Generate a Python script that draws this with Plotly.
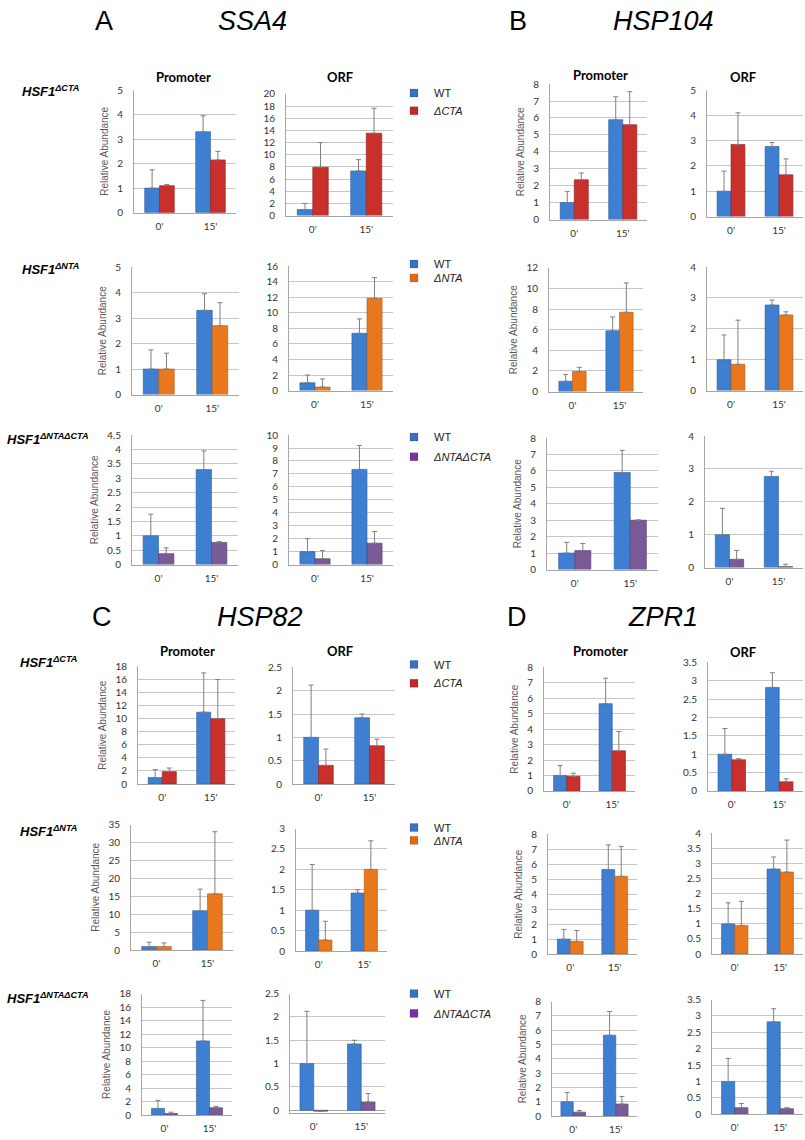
import plotly.graph_objects as go

W, H = 805, 1140

CATS = ["0'", "15'"]
GENES = ["SSA4", "HSP104", "HSP82", "ZPR1"]
LETTERS = ["A", "B", "C", "D"]
REGIONS = ["Promoter", "ORF"]
MUT_NAMES = ["ΔCTA", "ΔNTA", "ΔNTAΔCTA"]
ROW_LABELS = ["HSF1<sup>ΔCTA</sup>", "HSF1<sup>ΔNTA</sup>", "HSF1<sup>ΔNTAΔCTA</sup>"]

# ---------------- data (bar value, top of error bar) ----------------
# SSA4
SSA4_PROM_WT = [1.00, 3.30];   SSA4_PROM_WT_TOP = [1.75, 3.95]
SSA4_ORF_WT = [1.00, 7.35];    SSA4_ORF_WT_TOP = [2.00, 9.20]
SSA4_PROM_CTA = [1.10, 2.15];  SSA4_PROM_CTA_TOP = [1.15, 2.50]
SSA4_ORF_CTA = [7.95, 13.55];  SSA4_ORF_CTA_TOP = [12.00, 17.65]
SSA4_PROM_NTA = [1.00, 2.70];  SSA4_PROM_NTA_TOP = [1.62, 3.60]
SSA4_ORF_NTA = [0.45, 11.85];  SSA4_ORF_NTA_TOP = [1.50, 14.50]
SSA4_PROM_DBL = [0.38, 0.77];  SSA4_PROM_DBL_TOP = [0.58, 0.80]
SSA4_ORF_DBL = [0.45, 1.65];   SSA4_ORF_DBL_TOP = [1.08, 2.55]
# HSP104
HSP104_PROM_WT = [1.00, 5.90];  HSP104_PROM_WT_TOP = [1.65, 7.25]
HSP104_ORF_WT = [1.00, 2.77];   HSP104_ORF_WT_TOP = [1.80, 2.93]
HSP104_PROM_CTA = [2.35, 5.60]; HSP104_PROM_CTA_TOP = [2.75, 7.55]
HSP104_ORF_CTA = [2.85, 1.65];  HSP104_ORF_CTA_TOP = [4.10, 2.28]
HSP104_PROM_NTA = [1.95, 7.70]; HSP104_PROM_NTA_TOP = [2.35, 10.55]
HSP104_ORF_NTA = [0.85, 2.45];  HSP104_ORF_NTA_TOP = [2.28, 2.55]
HSP104_PROM_DBL = [1.15, 3.00]; HSP104_PROM_DBL_TOP = [1.58, 3.02]
HSP104_ORF_DBL = [0.25, 0.03];  HSP104_ORF_DBL_TOP = [0.52, 0.10]
# HSP82
HSP82_PROM_WT = [1.00, 11.00];  HSP82_PROM_WT_TOP = [2.20, 17.00]
HSP82_ORF_WT = [1.00, 1.42];    HSP82_ORF_WT_TOP = [2.12, 1.50]
HSP82_PROM_CTA = [1.90, 10.00]; HSP82_PROM_CTA_TOP = [2.45, 16.00]
HSP82_ORF_CTA = [0.40, 0.82];   HSP82_ORF_CTA_TOP = [0.75, 0.96]
HSP82_PROM_NTA = [1.00, 15.70]; HSP82_PROM_NTA_TOP = [2.00, 33.00]
HSP82_ORF_NTA = [0.27, 2.00];   HSP82_ORF_NTA_TOP = [0.73, 2.70]
HSP82_PROM_DBL = [0.25, 1.10];  HSP82_PROM_DBL_TOP = [0.45, 1.30]
HSP82_ORF_DBL = [-0.02, 0.18];  HSP82_ORF_DBL_TOP = [-0.02, 0.36]
# ZPR1
ZPR1_PROM_WT = [1.00, 5.65];  ZPR1_PROM_WT_TOP = [1.65, 7.30]
ZPR1_ORF_WT = [1.00, 2.82];   ZPR1_ORF_WT_TOP = [1.70, 3.22]
ZPR1_PROM_CTA = [0.95, 2.60]; ZPR1_PROM_CTA_TOP = [1.15, 3.85]
ZPR1_ORF_CTA = [0.85, 0.25];  ZPR1_ORF_CTA_TOP = [0.88, 0.33]
ZPR1_PROM_NTA = [0.85, 5.20]; ZPR1_PROM_NTA_TOP = [1.58, 7.20]
ZPR1_ORF_NTA = [0.95, 2.72];  ZPR1_ORF_NTA_TOP = [1.75, 3.78]
ZPR1_PROM_DBL = [0.28, 0.85]; ZPR1_PROM_DBL_TOP = [0.40, 1.38]
ZPR1_ORF_DBL = [0.20, 0.17];  ZPR1_ORF_DBL_TOP = [0.33, 0.20]

# y-axis tick ranges (max, step) per row: ΔCTA, ΔNTA, ΔNTAΔCTA
SSA4_PROM_YMAX = [5, 5, 4.5];     SSA4_PROM_DTICK = [1, 1, 0.5]
SSA4_ORF_YMAX = [20, 16, 10];     SSA4_ORF_DTICK = [2, 2, 1]
HSP104_PROM_YMAX = [8, 12, 8];    HSP104_PROM_DTICK = [1, 2, 1]
HSP104_ORF_YMAX = [5, 4, 4];      HSP104_ORF_DTICK = [1, 1, 1]
HSP82_PROM_YMAX = [18, 35, 18];   HSP82_PROM_DTICK = [2, 5, 2]
HSP82_ORF_YMAX = [2.5, 3, 2.5];   HSP82_ORF_DTICK = [0.5, 0.5, 0.5]
ZPR1_PROM_YMAX = [8, 8, 8];       ZPR1_PROM_DTICK = [1, 1, 1]
ZPR1_ORF_YMAX = [3.5, 4, 3.5];    ZPR1_ORF_DTICK = [0.5, 0.5, 0.5]

g = globals()

# ---------------- styles / geometry (pixels) ----------------
WT_COLOR, WT_LINE = "#3f7fd1", "#2b5c9f"
MUT_COLORS = ["#c9302c", "#e8771e", "#7b5b97"]
MUT_LINES = ["#8e1f1d", "#b35a12", "#55396c"]
LEG_WT_COLOR = "#3a6fc4"
LEG_MUT_COLORS = ["#c0282b", "#e26a12", "#7434a4"]

# (x0, x1, y_top_of_range, y_zero) per gene -> region -> row
GEOM = {
    "SSA4": {"Promoter": [(134, 236, 84, 208), (132, 239, 263, 392), (132, 238, 433, 564)],
             "ORF": [(286, 393, 88, 211), (289, 393, 262, 388), (289, 393, 433, 564)]},
    "HSP104": {"Promoter": [(550, 647, 78, 215), (549, 643, 264, 389), (547, 658, 436, 569)],
               "ORF": [(707, 803, 84, 212), (707, 803, 263, 388), (705, 803, 434, 567)]},
    "HSP82": {"Promoter": [(138, 235, 667, 786), (131, 233, 827, 954), (142, 232, 998, 1121)],
              "ORF": [(293, 395, 668, 786), (296, 387, 831, 955), (290, 385, 998, 1116)]},
    "ZPR1": {"Promoter": [(544, 635, 668, 793), (548, 637, 837, 958), (552, 637, 1006, 1122)],
             "ORF": [(708, 803, 663, 793), (712, 803, 836, 958), (712, 803, 1004, 1120)]},
}

TICK_FONT = dict(family="Lato", size=10, color="#333333")
AXIS_LINE = "#a6a6a6"
GRID = "#c6c6c6"

fig = go.Figure()
layout = {}
idx = 0
MUT_KEYS = ["CTA", "NTA", "DBL"]

for gi, gene in enumerate(GENES):
    for region in REGIONS:
        rk = "PROM" if region == "Promoter" else "ORF"
        wt = g[f"{gene}_{rk}_WT"]
        wt_top = g[f"{gene}_{rk}_WT_TOP"]
        ymaxs = g[f"{gene}_{rk}_YMAX"]
        dticks = g[f"{gene}_{rk}_DTICK"]
        for row in range(3):
            idx += 1
            mk = MUT_KEYS[row]
            mut = g[f"{gene}_{rk}_{mk}"]
            mut_top = g[f"{gene}_{rk}_{mk}_TOP"]
            x0, x1, yt, yb = GEOM[gene][region][row]
            ymax = ymaxs[row]
            ymin = min(0, min(mut) * 2.5, min(wt))
            ybot_px = yb + (0 - ymin) / ymax * (yb - yt)
            xn = "x" if idx == 1 else f"x{idx}"
            yn = "y" if idx == 1 else f"y{idx}"
            xk = "xaxis" if idx == 1 else f"xaxis{idx}"
            yk = "yaxis" if idx == 1 else f"yaxis{idx}"

            fig.add_trace(go.Bar(
                x=CATS, y=wt, name="WT", xaxis=xn, yaxis=yn,
                marker=dict(color=WT_COLOR, line=dict(color=WT_LINE, width=0.6)),
                error_y=dict(type="data", symmetric=False,
                             array=[t - v for t, v in zip(wt_top, wt)],
                             arrayminus=[0, 0], color="#7f7f7f", thickness=1, width=2.5),
                showlegend=False,
            ))
            fig.add_trace(go.Bar(
                x=CATS, y=mut, name=MUT_NAMES[row], xaxis=xn, yaxis=yn,
                marker=dict(color=MUT_COLORS[row], line=dict(color=MUT_LINES[row], width=0.6)),
                error_y=dict(type="data", symmetric=False,
                             array=[max(0, t - v) for t, v in zip(mut_top, mut)],
                             arrayminus=[0, 0], color="#7f7f7f", thickness=1, width=2.5),
                showlegend=False,
            ))

            layout[xk] = dict(domain=[x0 / W, x1 / W], anchor=yn, type="category",
                              showline=True, linecolor=AXIS_LINE, linewidth=1,
                              showgrid=False, ticks="", tickfont=TICK_FONT,
                              ticklabelstandoff=4, fixedrange=True)
            ya = dict(domain=[1 - ybot_px / H, 1 - yt / H], anchor=xn,
                      range=[ymin, ymax], tick0=0, dtick=dticks[row],
                      showline=True, linecolor=AXIS_LINE, linewidth=1,
                      showgrid=True, gridcolor=GRID, gridwidth=1,
                      zeroline=ymin < 0, zerolinecolor=AXIS_LINE, zerolinewidth=1,
                      ticks="", tickfont=TICK_FONT, ticklabelstandoff=8,
                      fixedrange=True)
            if region == "Promoter":
                ya["title"] = dict(text="Relative Abundance",
                                   font=dict(family="Liberation Sans", size=10, color="#595959"),
                                   standoff=6)
            layout[yk] = ya

# ---------------- legends (one entry each, positioned) ----------------
LEG_Y = [[87, 105], [260, 274], [435, 455], [665, 684], [830, 843], [998, 1018]]
k = 0
for half in range(2):
    for row in range(3):
        for item in range(2):
            lid = "legend" if k == 0 else f"legend{k+1}"
            name = "WT" if item == 0 else f"<i>{MUT_NAMES[row]}</i>"
            col = LEG_WT_COLOR if item == 0 else LEG_MUT_COLORS[row]
            fig.add_trace(go.Scatter(
                x=[None], y=[None], mode="markers", name=name,
                marker=dict(symbol="square", size=8, color=col,
                            line=dict(color="rgba(0,0,0,0.25)", width=0.5)),
                showlegend=True, legend=lid, hoverinfo="skip",
            ))
            layout[lid] = dict(x=394 / W, y=1 - LEG_Y[half * 3 + row][item] / H,
                               xanchor="left", yanchor="middle",
                               font=dict(family="Liberation Sans", size=11, color="#222222"),
                               bgcolor="rgba(0,0,0,0)", borderwidth=0, itemwidth=30,
                               itemclick=False, itemdoubleclick=False)
            k += 1

# ---------------- annotations ----------------
ann = []
def px(x, y, text, size, family="Liberation Sans", xanchor="center", color="#000000"):
    ann.append(dict(x=x / W, y=1 - y / H, xref="paper", yref="paper", text=text,
                    showarrow=False, xanchor=xanchor, yanchor="middle",
                    font=dict(family=family, size=size, color=color)))

LETTER_POS = [(104, 14), (518, 14), (102, 617), (517, 617)]
GENE_POS = [(252, 14), (663, 14), (260, 617), (663, 617)]
for i in range(4):
    px(*LETTER_POS[i], LETTERS[i], 27)
    px(*GENE_POS[i], f"<i>{GENES[i]}</i>", 27)

REGION_TITLE_POS = {
    "SSA4": [(183, 71), (340, 71)], "HSP104": [(600, 69), (743, 71)],
    "HSP82": [(187, 651), (340, 651)], "ZPR1": [(600, 651), (743, 652)],
}
for gene in GENES:
    for ri, region in enumerate(REGIONS):
        px(*REGION_TITLE_POS[gene][ri], f"<b>{region}</b>", 13, family="Lato")

ROW_LABEL_POS = [[(20, 85), (20, 265), (5, 437)], [(18, 663), (18, 833), (5, 1002)]]
for half in range(2):
    for row in range(3):
        x, y = ROW_LABEL_POS[half][row]
        px(x, y, f"<b><i>{ROW_LABELS[row]}</i></b>", 13, xanchor="left")

layout["annotations"] = ann
fig.update_layout(**layout)
fig.update_layout(width=W, height=H, margin=dict(l=0, r=0, t=0, b=0),
                  paper_bgcolor="white", plot_bgcolor="white",
                  barmode="group", bargap=0.42, bargroupgap=0,
                  font=dict(family="Liberation Sans"))

fig.write_html("out.html", config={"displayModeBar": False},
               post_script="document.body.style.margin='0px';document.body.style.overflow='hidden';")
